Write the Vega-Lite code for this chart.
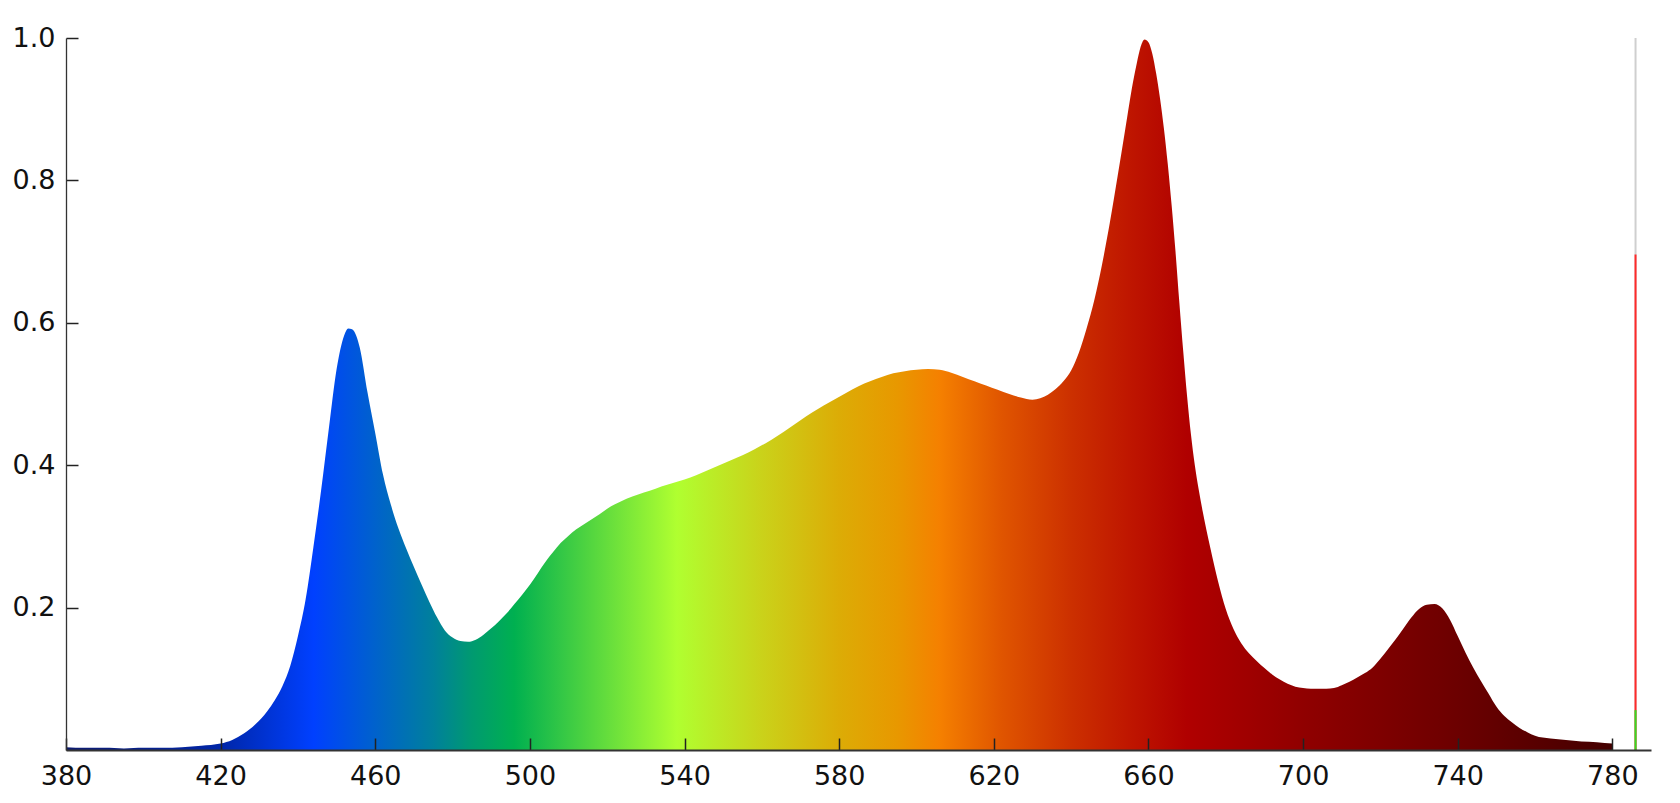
{
  "$schema": "https://vega.github.io/schema/vega-lite/v6.json",
  "width": 1585,
  "height": 712,
  "autosize": "none",
  "padding": {"left": 66, "top": 38, "right": 29, "bottom": 53},
  "background": "white",
  "config": {
    "view": {"stroke": null},
    "font": "DejaVu Sans",
    "axis": {
      "labelFont": "DejaVu Sans",
      "labelFontSize": 27,
      "labelColor": "#111111",
      "grid": false,
      "title": null,
      "tickSize": -12,
      "tickColor": "#222222",
      "tickWidth": 1.5,
      "domainColor": "#333333",
      "labelFlush": false,
      "labelOverlap": false
    }
  },
  "datasets": {
    "spectrum": [
      {"nm": 380, "value": 0.004}, {"nm": 385, "value": 0.003}, {"nm": 390, "value": 0.003},
      {"nm": 395, "value": 0.002}, {"nm": 400, "value": 0.003}, {"nm": 405, "value": 0.003},
      {"nm": 410, "value": 0.004}, {"nm": 415, "value": 0.006}, {"nm": 420, "value": 0.009},
      {"nm": 423, "value": 0.014}, {"nm": 426, "value": 0.023}, {"nm": 429, "value": 0.036},
      {"nm": 432, "value": 0.054}, {"nm": 434, "value": 0.07}, {"nm": 436, "value": 0.09},
      {"nm": 438, "value": 0.118}, {"nm": 440, "value": 0.16}, {"nm": 442, "value": 0.212},
      {"nm": 444, "value": 0.285}, {"nm": 446, "value": 0.365}, {"nm": 448, "value": 0.452},
      {"nm": 450, "value": 0.535}, {"nm": 452, "value": 0.583}, {"nm": 453, "value": 0.592},
      {"nm": 454, "value": 0.591}, {"nm": 455, "value": 0.583}, {"nm": 456, "value": 0.565},
      {"nm": 458, "value": 0.502}, {"nm": 460, "value": 0.445}, {"nm": 462, "value": 0.387},
      {"nm": 464, "value": 0.345}, {"nm": 466, "value": 0.311}, {"nm": 468, "value": 0.283},
      {"nm": 470, "value": 0.257}, {"nm": 472, "value": 0.232}, {"nm": 474, "value": 0.208},
      {"nm": 476, "value": 0.186}, {"nm": 478, "value": 0.168}, {"nm": 480, "value": 0.158},
      {"nm": 482, "value": 0.153}, {"nm": 484, "value": 0.152}, {"nm": 486, "value": 0.155},
      {"nm": 488, "value": 0.162}, {"nm": 490, "value": 0.171}, {"nm": 492, "value": 0.181},
      {"nm": 494, "value": 0.192}, {"nm": 496, "value": 0.205}, {"nm": 498, "value": 0.218},
      {"nm": 500, "value": 0.232}, {"nm": 502, "value": 0.248}, {"nm": 504, "value": 0.264},
      {"nm": 506, "value": 0.278}, {"nm": 508, "value": 0.291}, {"nm": 510, "value": 0.301},
      {"nm": 512, "value": 0.31}, {"nm": 514, "value": 0.317}, {"nm": 516, "value": 0.324},
      {"nm": 518, "value": 0.331}, {"nm": 520, "value": 0.339}, {"nm": 522, "value": 0.345},
      {"nm": 525, "value": 0.353}, {"nm": 528, "value": 0.359}, {"nm": 531, "value": 0.364},
      {"nm": 534, "value": 0.37}, {"nm": 537, "value": 0.375}, {"nm": 540, "value": 0.38},
      {"nm": 543, "value": 0.386}, {"nm": 546, "value": 0.393}, {"nm": 549, "value": 0.4},
      {"nm": 552, "value": 0.407}, {"nm": 555, "value": 0.414}, {"nm": 558, "value": 0.422},
      {"nm": 561, "value": 0.431}, {"nm": 564, "value": 0.441}, {"nm": 567, "value": 0.452},
      {"nm": 570, "value": 0.463}, {"nm": 573, "value": 0.474}, {"nm": 576, "value": 0.484},
      {"nm": 579, "value": 0.493}, {"nm": 582, "value": 0.502}, {"nm": 585, "value": 0.511},
      {"nm": 588, "value": 0.518}, {"nm": 591, "value": 0.524}, {"nm": 594, "value": 0.529},
      {"nm": 597, "value": 0.532}, {"nm": 600, "value": 0.534}, {"nm": 603, "value": 0.535},
      {"nm": 606, "value": 0.534}, {"nm": 609, "value": 0.53}, {"nm": 612, "value": 0.524},
      {"nm": 615, "value": 0.518}, {"nm": 618, "value": 0.512}, {"nm": 621, "value": 0.506},
      {"nm": 624, "value": 0.5}, {"nm": 627, "value": 0.495}, {"nm": 630, "value": 0.492},
      {"nm": 632, "value": 0.494}, {"nm": 634, "value": 0.499}, {"nm": 636, "value": 0.507},
      {"nm": 638, "value": 0.518}, {"nm": 640, "value": 0.533}, {"nm": 642, "value": 0.558},
      {"nm": 644, "value": 0.592}, {"nm": 646, "value": 0.632}, {"nm": 648, "value": 0.682},
      {"nm": 650, "value": 0.74}, {"nm": 652, "value": 0.805}, {"nm": 654, "value": 0.872},
      {"nm": 656, "value": 0.938}, {"nm": 657, "value": 0.965}, {"nm": 658, "value": 0.988},
      {"nm": 659, "value": 0.998}, {"nm": 660, "value": 0.994}, {"nm": 661, "value": 0.978},
      {"nm": 662, "value": 0.95}, {"nm": 663, "value": 0.915}, {"nm": 664, "value": 0.873},
      {"nm": 665, "value": 0.823}, {"nm": 666, "value": 0.765}, {"nm": 667, "value": 0.7},
      {"nm": 668, "value": 0.628}, {"nm": 669, "value": 0.56}, {"nm": 670, "value": 0.497},
      {"nm": 671, "value": 0.443}, {"nm": 672, "value": 0.4}, {"nm": 673, "value": 0.366},
      {"nm": 674, "value": 0.336}, {"nm": 675, "value": 0.309}, {"nm": 676, "value": 0.284},
      {"nm": 678, "value": 0.237}, {"nm": 680, "value": 0.198}, {"nm": 682, "value": 0.17},
      {"nm": 684, "value": 0.15}, {"nm": 686, "value": 0.136}, {"nm": 688, "value": 0.125},
      {"nm": 690, "value": 0.115}, {"nm": 692, "value": 0.106}, {"nm": 694, "value": 0.099},
      {"nm": 696, "value": 0.093}, {"nm": 698, "value": 0.089}, {"nm": 700, "value": 0.087},
      {"nm": 702, "value": 0.086}, {"nm": 704, "value": 0.086}, {"nm": 706, "value": 0.086},
      {"nm": 708, "value": 0.087}, {"nm": 710, "value": 0.091}, {"nm": 712, "value": 0.096},
      {"nm": 714, "value": 0.102}, {"nm": 716, "value": 0.108}, {"nm": 718, "value": 0.116},
      {"nm": 720, "value": 0.128}, {"nm": 722, "value": 0.142}, {"nm": 724, "value": 0.156},
      {"nm": 726, "value": 0.171}, {"nm": 728, "value": 0.186}, {"nm": 730, "value": 0.198},
      {"nm": 732, "value": 0.204}, {"nm": 734, "value": 0.205}, {"nm": 736, "value": 0.199},
      {"nm": 738, "value": 0.183}, {"nm": 740, "value": 0.16}, {"nm": 742, "value": 0.137},
      {"nm": 744, "value": 0.116}, {"nm": 746, "value": 0.097}, {"nm": 748, "value": 0.079},
      {"nm": 750, "value": 0.061}, {"nm": 752, "value": 0.048}, {"nm": 754, "value": 0.039},
      {"nm": 756, "value": 0.031}, {"nm": 758, "value": 0.025}, {"nm": 760, "value": 0.02},
      {"nm": 764, "value": 0.016}, {"nm": 768, "value": 0.014}, {"nm": 772, "value": 0.012},
      {"nm": 776, "value": 0.011}, {"nm": 780, "value": 0.009}
    ],
    "indicator": [
      {"nm": 786, "value": 1.0, "part": "total"},
      {"nm": 786, "value": 0.696, "part": "red"},
      {"nm": 786, "value": 0.056, "part": "green"}
    ]
  },
  "layer": [
    {
      "data": {"name": "spectrum"},
      "mark": {
        "type": "area",
        "interpolate": "monotone",
        "strokeWidth": 0,
        "fill": {
          "gradient": "linear",
          "x1": 0, "x2": 1, "y1": 0, "y2": 0,
          "stops": [
            {"offset": 0.0, "color": "#0d1a6e"},
            {"offset": 0.1, "color": "#0026a8"},
            {"offset": 0.16, "color": "#0040ff"},
            {"offset": 0.2, "color": "#0062cc"},
            {"offset": 0.2375, "color": "#00809c"},
            {"offset": 0.2625, "color": "#009a70"},
            {"offset": 0.29, "color": "#00b050"},
            {"offset": 0.3375, "color": "#50d440"},
            {"offset": 0.395, "color": "#b0ff30"},
            {"offset": 0.45, "color": "#cad21a"},
            {"offset": 0.5, "color": "#dcac06"},
            {"offset": 0.5375, "color": "#e89800"},
            {"offset": 0.565, "color": "#f58000"},
            {"offset": 0.605, "color": "#e05500"},
            {"offset": 0.65, "color": "#cc3000"},
            {"offset": 0.6875, "color": "#bf1600"},
            {"offset": 0.725, "color": "#b00000"},
            {"offset": 0.8, "color": "#900000"},
            {"offset": 0.9, "color": "#6c0000"},
            {"offset": 1.0, "color": "#440000"}
          ]
        }
      },
      "encoding": {
        "x": {
          "field": "nm",
          "type": "quantitative",
          "scale": {"domain": [380, 790], "nice": false, "zero": false},
          "axis": {
            "values": [380, 420, 460, 500, 540, 580, 620, 660, 700, 740, 780],
            "format": "d",
            "labelPadding": 25,
            "domainWidth": 2,
            "zindex": 1
          }
        },
        "y": {
          "field": "value",
          "type": "quantitative",
          "scale": {"domain": [0, 1], "nice": false},
          "axis": {
            "values": [0.2, 0.4, 0.6, 0.8, 1.0],
            "format": ".1f",
            "labelPadding": 23,
            "domainWidth": 1.3,
            "zindex": 1
          }
        }
      }
    },
    {
      "data": {"name": "indicator"},
      "mark": {"type": "rule", "strokeWidth": 2},
      "encoding": {
        "x": {"field": "nm", "type": "quantitative"},
        "y": {"field": "value", "type": "quantitative"},
        "y2": {"datum": 0},
        "color": {
          "field": "part",
          "type": "nominal",
          "scale": {"domain": ["total", "red", "green"], "range": ["#cfcfcf", "#ff2a2a", "#33dd22"]},
          "legend": null
        },
        "order": {"field": "value", "sort": "descending"}
      }
    }
  ]
}
